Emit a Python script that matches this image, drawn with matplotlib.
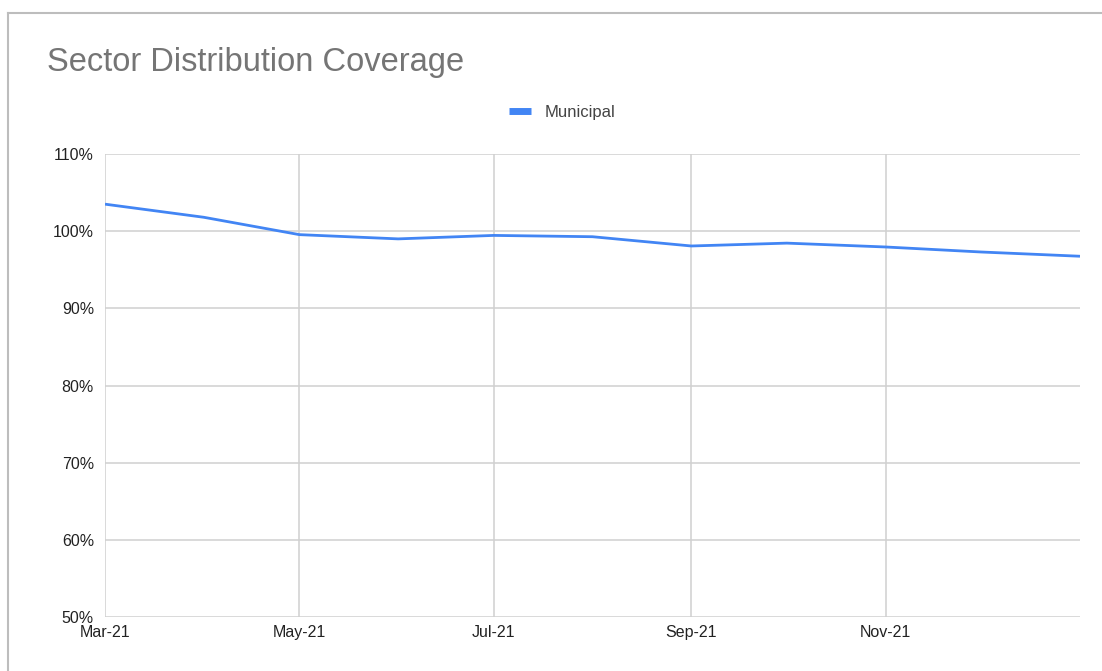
import matplotlib
matplotlib.use("Agg")
import matplotlib.pyplot as plt
import matplotlib.dates as mdates
from matplotlib.lines import Line2D
from matplotlib.ticker import FuncFormatter
import numpy as np
import datetime as dt

plt.rcParams['font.family'] = ['Liberation Sans', 'DejaVu Sans']

BLUE = '#4285F4'
GRID = '#d0d0d0'

# monthly coverage, Mar-21 .. Jan-22
months = ['2021-03', '2021-04', '2021-05', '2021-06', '2021-07', '2021-08',
          '2021-09', '2021-10', '2021-11', '2021-12', '2022-01']
municipal = [103.5, 101.8, 99.55, 99.0, 99.45, 99.28, 98.08, 98.45, 97.95, 97.3, 96.75]
tick_months = ['2021-03', '2021-05', '2021-07', '2021-09', '2021-11']
y_ticks = [50, 60, 70, 80, 90, 100, 110]


def to_date(s):
    return dt.datetime.strptime(s, '%Y-%m')


dates = [to_date(m) for m in months]

fig = plt.figure(figsize=(11.02, 6.71), dpi=100)
ax = fig.add_axes([105 / 1102, 1 - 617 / 671, 975 / 1102, 463 / 671])

ax.plot(dates, municipal, color=BLUE, lw=2.0, solid_capstyle='butt')

ax.set_xlim(dates[0], dates[-1])
ax.set_ylim(50, 110)
ax.set_yticks(y_ticks)
ax.yaxis.set_major_formatter(FuncFormatter(lambda v, p: '%d%%' % v))
ax.set_xticks([to_date(m) for m in tick_months])
ax.xaxis.set_major_formatter(mdates.DateFormatter('%b-%y'))

ax.grid(True, color=GRID, lw=1.1)
ax.set_axisbelow(True)
for sp in ax.spines.values():
    sp.set_visible(False)
ax.tick_params(length=0, labelsize=11.5, colors='#222222')
ax.tick_params(axis='y', pad=8)
ax.tick_params(axis='x', pad=6)

# title and legend
fig.text(47 / 1102, 1 - 63 / 671, 'Sector Distribution Coverage', fontsize=23.5,
         color='#757575', va='center', ha='left')
handle = Line2D([], [], color=BLUE, lw=5, solid_capstyle='butt')
fig.legend([handle], ['Municipal'], loc='center', bbox_to_anchor=(562 / 1102, 1 - 112 / 671),
           frameon=False, fontsize=12, handlelength=1.3, handletextpad=0.8,
           labelcolor='#444444')

# chart frame (top and left edges only visible)
fig.add_artist(Line2D([8 / 1102, 8 / 1102], [0, 1 - 13 / 671], color='#bdbdbd', lw=1.5,
                      transform=fig.transFigure))
fig.add_artist(Line2D([8 / 1102, 1], [1 - 13 / 671, 1 - 13 / 671], color='#bdbdbd', lw=1.5,
                      transform=fig.transFigure))

fig.savefig('out.png', dpi=100, facecolor='white')
